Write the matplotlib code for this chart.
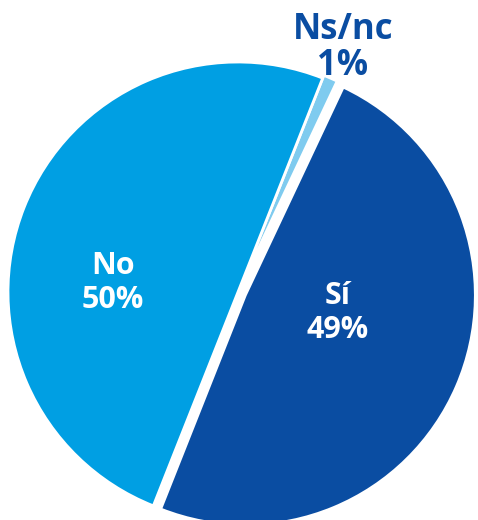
import matplotlib
matplotlib.use("Agg")
import matplotlib.pyplot as plt

categories = ["Sí", "Ns/nc", "No"]
values = [49, 1, 50]
colors = ["#0A4DA2", "#7FCBEF", "#009FE3"]

W, H = 478, 520
fig = plt.figure(figsize=(W / 100, H / 100), dpi=100)
ax = fig.add_axes([0, 0, 1, 1])
ax.set_xlim(0, W)
ax.set_ylim(0, H)
ax.set_aspect("equal")
ax.axis("off")

cx, cy, r = 238, H - 292, 230
explode = [8, 3, 0]  # offsets in pixel units
wedges, _ = ax.pie(values, colors=colors, explode=explode, startangle=-111.6,
                   counterclock=True, center=(cx, cy), radius=r,
                   wedgeprops=dict(edgecolor="white", linewidth=2))
ax.set_xlim(0, W)
ax.set_ylim(0, H)

font = ["Open Sans", "DejaVu Sans"]
ax.text(113, H - 283, f"{categories[2]}\n{values[2]}%", color="white", fontsize=22,
        fontweight="bold", family=font, ha="center", va="center", linespacing=1.15)
ax.text(338, H - 313, f"{categories[0]}\n{values[0]}%", color="white", fontsize=22,
        fontweight="bold", family=font, ha="center", va="center", linespacing=1.15)
ax.text(343, H - 48, f"{categories[1]}\n{values[1]}%", color="#0A4DA2", fontsize=25,
        fontweight="bold", family=font, ha="center", va="center", linespacing=1.0)

fig.savefig("out.png", dpi=100)
